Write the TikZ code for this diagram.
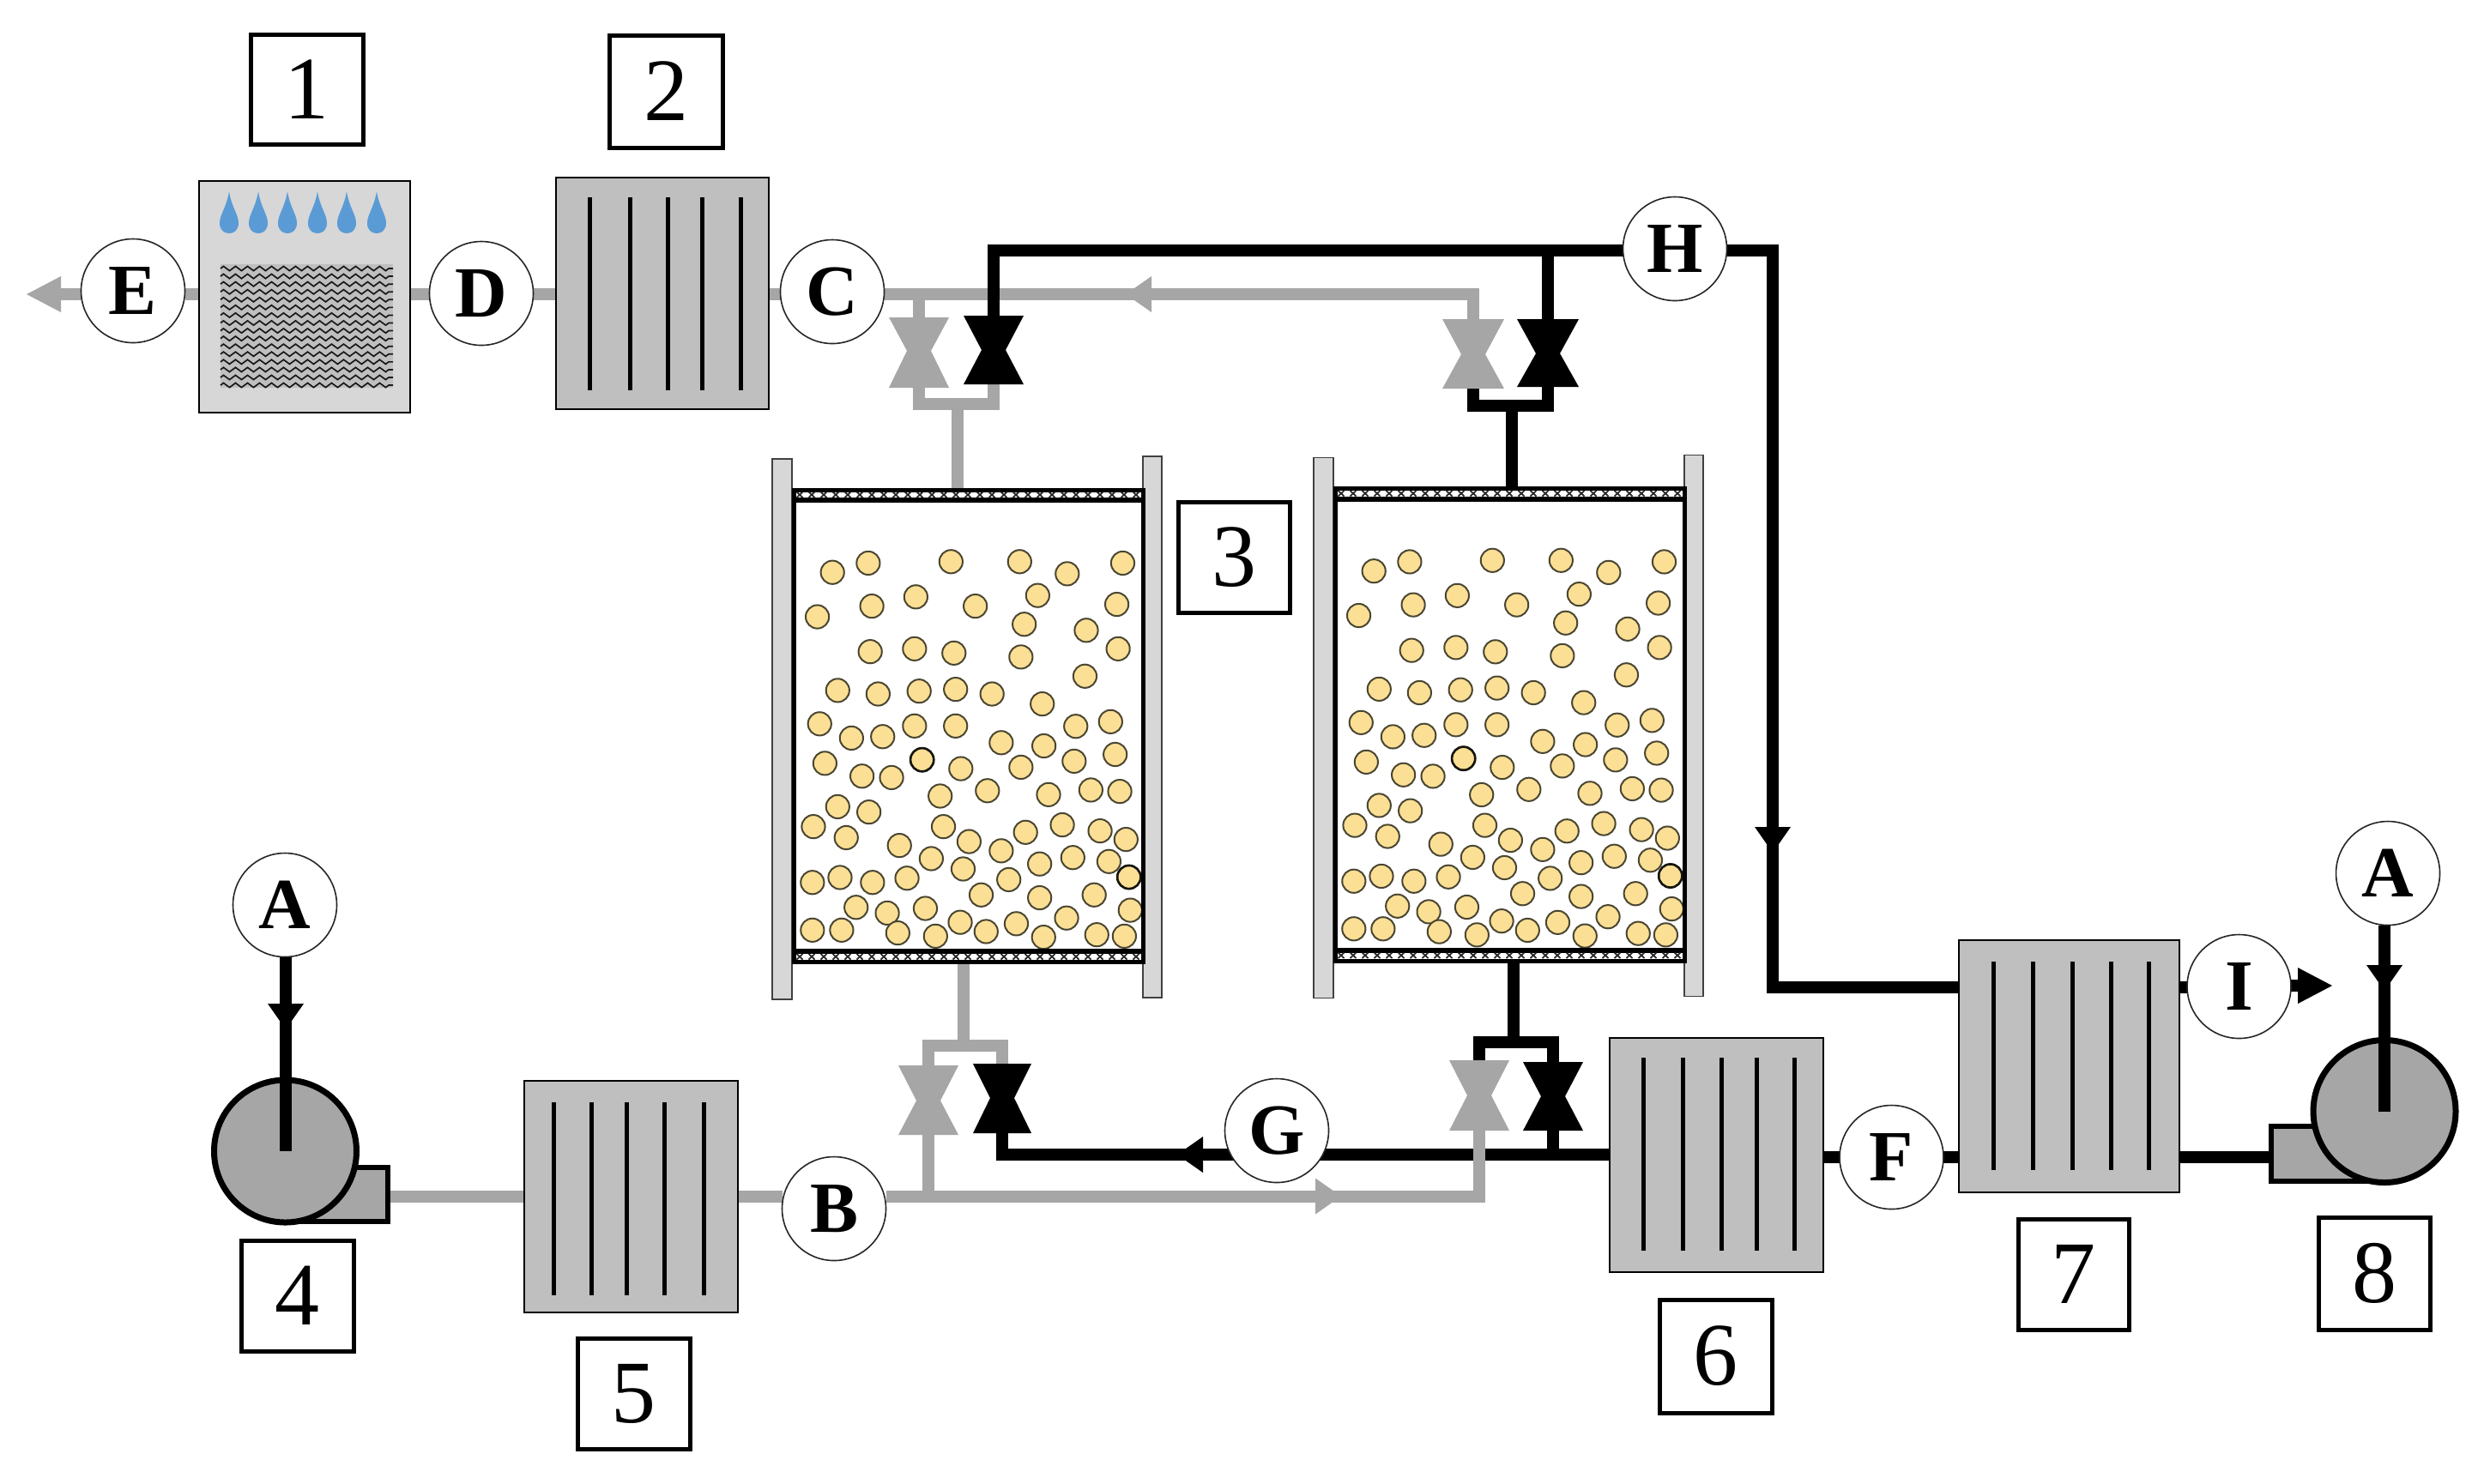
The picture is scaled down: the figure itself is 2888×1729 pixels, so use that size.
\documentclass[tikz,border=0pt]{standalone}
\usepackage{fontspec}
\setmainfont{Liberation Serif}
\usetikzlibrary{arrows.meta,decorations.pathmorphing,backgrounds}
\def\uu{*0.25pt}
\definecolor{pipegray}{HTML}{A6A6A6}
\definecolor{hxgray}{HTML}{BFBFBF}
\definecolor{lightpanel}{HTML}{D7D7D7}
\definecolor{fangray}{HTML}{A6A6A6}
\definecolor{dropblue}{HTML}{5B9BD5}
\definecolor{beadfill}{HTML}{FBDF94}
\definecolor{beadline}{HTML}{4A4632}
\tikzset{
  pipeG/.style={draw=pipegray,line width=14\uu},
  pipeK/.style={draw=black,line width=14\uu},
  headS/.style={-{Triangle[length=7.5pt,width=10.5pt,line width=0pt]}},
  headL/.style={-{Triangle[length=10pt,width=10.5pt,line width=0pt]}},
  hxnode/.style={draw=black,fill=hxgray,line width=2\uu,inner sep=0pt,outer sep=0pt},
  coolnode/.style={draw=black,fill=lightpanel,line width=2\uu,inner sep=0pt,outer sep=0pt},
  finline/.style={draw=black,line width=5\uu},
  tagnode/.style={circle,draw=black!85,fill=white,line width=1.6\uu,minimum size=121\uu,inner sep=0pt,outer sep=0pt,font=\bfseries\fontsize{21}{21}\selectfont},
  numnode/.style={draw=black,fill=white,line width=5\uu,inner sep=0pt,outer sep=0pt,font=\fontsize{26}{26}\selectfont},
  fannode/.style={circle,draw=black,fill=fangray,line width=7\uu,inner sep=0pt,outer sep=0pt,minimum size=166\uu},
  outnode/.style={draw=black,fill=fangray,line width=6\uu,inner sep=0pt,outer sep=0pt},
  platenode/.style={draw=black!75,fill=lightpanel,line width=1.6\uu,inner sep=0pt,outer sep=0pt},
  bednode/.style={draw=black,fill=white,line width=5\uu,inner sep=0pt,outer sep=0pt},
  beadstyle/.style={draw=beadline,fill=beadfill,line width=2\uu},
  meshx/.style={draw=black!85,line width=1.7\uu},
}
\newcommand\boxnode[7]{% style name x0 y0 x1 y1 text
  \node[#1,minimum width={(#5-#3)*0.25pt},minimum height={(#6-#4)*0.25pt}] (#2) at ({(#3+#5)/2},{(#4+#6)/2}) {#7};}
\newcommand\hourglass[7]{% name color cx top neck bottom halfwidth
  \fill[#2] (#3-#7,#4) -- (#3+#7,#4) -- (#3+14,#5) -- (#3+#7,#6) -- (#3-#7,#6) -- (#3-14,#5) -- cycle;
  \coordinate (#1t) at (#3,#4);
  \coordinate (#1b) at (#3,#6);}
\def\beadlist{314/355,423/329,675/325,884/325,1029/359,1198/329,
268/480,434/450,568/424,749/450,939/420,1180/445,898/501,1087/518,
429/578,564/570,684/582,888/593,1184/570,1083/647,
330/687,453/697,578/689,689/684,800/697,953/725,
275/781,372/821,467/817,564/787,689/787,1055/788,1161/775,828/834,958/843,
291/892,404/928,494/932,587/882,705/907,888/903,1050/886,1175/867,
642/984,786/969,972/980,1101/967,1189/971,
330/1014,425/1029,256/1070,356/1101,652/1070,1014/1065,1129/1082,1208/1106,
902/1086,730/1112,828/1138,518/1123,615/1160,945/1175,1046/1157,1156/1168,
712/1189,851/1219,1217/1212,253/1227,337/1213,436/1227,541/1215,
767/1262,945/1270,1111/1262,386/1297,481/1313,597/1300,1221/1305,
253/1361,342/1361,513/1369,703/1339,628/1378,782/1365,874/1343,957/1381,1027/1327,1119/1374,1203/1378}
\newcommand\bedunit[1]{%
  \boxnode{platenode}{#1pl}{900}{535}{923}{1165}{}
  \boxnode{platenode}{#1pr}{1332}{532}{1354}{1163}{}
  \boxnode{bednode}{#1}{925.5}{571}{1332.5}{1121.5}{}
  \foreach \a/\b in \beadlist {\draw[beadstyle] ({850+\a/2.613},{520+\b/2.412}) circle[radius=13.6];}
  \foreach \a/\b in {587/882,1217/1212} {\draw[draw=black!70!beadline,line width=2.6\uu] ({850+\a/2.613},{520+\b/2.412}) circle[radius=13.6];}
  \draw[draw=black,line width=6\uu] (925.5,583) -- (1332.5,583) (925.5,1109) -- (1332.5,1109);
  \draw[draw=black,line width=5\uu] (925.5,571) rectangle (1332.5,1121.5);
  \draw[meshx] \foreach \x in {932,946,...,1326} {({\x-3.5},573.5) -- ({\x+3.5},580) ({\x-3.5},580) -- ({\x+3.5},573.5) ({\x-3.5},1112) -- ({\x+3.5},1118.5) ({\x-3.5},1118.5) -- ({\x+3.5},1112)};
}
\begin{document}
\begin{tikzpicture}[x=0.25pt,y=-0.25pt]
\useasboundingbox (0,0) rectangle (2888,1729);
\begin{pgfonlayer}{background}
\fill[white] (0,0) rectangle (2888,1729);
\end{pgfonlayer}

% equipment
\boxnode{coolnode}{cooler}{232}{211}{478}{481}{}
\foreach \x in {267,301,335,370,404,439} {
  \fill[dropblue,shift={(\x,0)}] (0,223) .. controls (-3,242) and (-11,250) .. (-11,260) .. controls (-11,268) and (-6,272) .. (0,272) .. controls (6,272) and (11,268) .. (11,260) .. controls (11,250) and (3,242) .. (0,223) -- cycle;}
\fill[hxgray] (257,308) rectangle (458,452);
\foreach \i in {0,...,15} {
  \draw[black!90,line width=1.7\uu,decorate,decoration={zigzag,segment length=3.5pt,amplitude=0.65pt}] (257,{313+9.07*\i}) -- (458,{313+9.07*\i});}

\boxnode{hxnode}{hxtwo}{648}{207}{896}{477}{}
\foreach \x in {687,734,778,818,863} \draw[finline] (\x,230) -- (\x,455);
\boxnode{hxnode}{hxfive}{611}{1260}{860}{1530}{}
\foreach \x in {645,689,730,774,820} \draw[finline] (\x,1285) -- (\x,1510);
\boxnode{hxnode}{hxsix}{1876}{1210}{2125}{1483}{}
\foreach \x in {1915,1961,2006,2047,2091} \draw[finline] (\x,1233) -- (\x,1458);
\boxnode{hxnode}{hxseven}{2283}{1096}{2540}{1390}{}
\foreach \x in {2323,2369,2415,2460,2504} \draw[finline] (\x,1121) -- (\x,1364);

% adsorption beds
\bedunit{bedA}
\begin{scope}[shift={(631,-1.5)}]
\bedunit{bedB}
\end{scope}

% valves
\hourglass{vgone}{pipegray}{1071}{370}{409}{452}{35}
\hourglass{vkone}{black}{1158}{368}{408}{448}{35}
\hourglass{vgtwo}{pipegray}{1717}{372}{413}{453}{36}
\hourglass{vktwo}{black}{1804}{372}{412}{451}{36}
\hourglass{vgthree}{pipegray}{1082}{1242}{1283}{1323}{35}
\hourglass{vkthree}{black}{1168}{1240}{1280}{1321}{34}
\hourglass{vgfour}{pipegray}{1724}{1236}{1277}{1318}{35}
\hourglass{vkfour}{black}{1810}{1238}{1278}{1318}{35}

% fans
\boxnode{outnode}{outfour}{332}{1361}{452}{1424}{}
\node[fannode] (fanfour) at (332.5,1342) {};
\boxnode{outnode}{outeight}{2647}{1313}{2779}{1377}{}
\node[fannode] (faneight) at (2779,1295.5) {};

% letter tags
\node[tagnode] (E) at (155,339) {E};
\node[tagnode] (D) at (561,342) {D};
\node[tagnode] (C) at (970,340) {C};
\node[tagnode] (H) at (1952,290) {H};
\node[tagnode] (B) at (972,1409) {B};
\node[tagnode] (G) at (1488,1318) {G};
\node[tagnode] (F) at (2204.5,1349) {F};
\node[tagnode] (I) at (2609.5,1150) {I};
\node[tagnode] (Aleft) at (332,1055) {A};
\node[tagnode] (Aright) at (2783,1018) {A};

% number boxes
\boxnode{numnode}{nOne}{292}{40}{423}{168}{1}
\boxnode{numnode}{nTwo}{710}{41}{842}{172}{2}
\boxnode{numnode}{nThree}{1373}{585}{1503}{714}{3}
\boxnode{numnode}{nFour}{281}{1446}{412}{1575}{4}
\boxnode{numnode}{nFive}{673}{1560}{804}{1689}{5}
\boxnode{numnode}{nSix}{1934}{1515}{2065}{1647}{6}
\boxnode{numnode}{nSeven}{2352}{1421}{2481}{1550}{7}
\boxnode{numnode}{nEight}{2702}{1419}{2832}{1550}{8}

% named points of the pipe runs
\coordinate (gyt) at (0,343);
\coordinate (gyb) at (0,1394.5);
\coordinate (kyt) at (0,292);
\coordinate (kyb) at (0,1346);
\coordinate (kyr) at (0,1348.5);
\coordinate (rc) at (2066,1150.5);
\coordinate (etip) at (31,343);
\coordinate (gmid) at (1400,343);
\coordinate (gtip) at (1312,343);
\coordinate (gbmid) at (1450,1394.5);
\coordinate (gbtip) at (1563,1394.5);
\coordinate (kbtip) at (1372,1346);
\coordinate (rmid) at (2066,800);
\coordinate (rtip) at (2066,994);
\coordinate (itip) at (2718,1149);
\coordinate (aLtip) at (333,1200);
\coordinate (aLbase) at (333,1172);
\coordinate (aRtip) at (2779,1155);
\coordinate (aRbase) at (2779,1127);
\coordinate (stemTA) at (1115.5,471);
\coordinate (stemTB) at (1762,472.5);
\coordinate (stemBA) at (1123,1219);
\coordinate (stemBB) at (1764,1215);

\begin{pgfonlayer}{background}
% regeneration air: grey, upper run
\draw[pipeG] (E.east|-gyt) -- (cooler.west|-gyt);
\draw[pipeG] (cooler.east|-gyt) -- (D.west|-gyt);
\draw[pipeG] (D.east|-gyt) -- (hxtwo.west|-gyt);
\draw[pipeG] (hxtwo.east|-gyt) -- (C.west|-gyt);
\draw[pipeG] (C.east|-gyt) -| (vgtwot);
\draw[pipeG] (vgonet) -- (vgonet|-gyt);
\draw[pipeG] (vgoneb) -- ++(0,19) -| (vkoneb);
\draw[pipeG] (stemTA) -- (stemTA|-bedA.north);
\draw[pipeG] (stemBA|-bedA.south) -- (stemBA);
\draw[pipeG] (vgthreet) -- ++(0,-23) -| (vkthreet);
% hot air: black
\draw[pipeK] (vkonet) |- (H.west|-kyt);
\draw[pipeK] (vktwot) -- (vktwot|-kyt);
\draw[pipeK] (H.east|-kyt) -| (rc) -- (hxseven.west|-rc);
\draw[pipeK] (vgtwob) -- ++(0,19.5) -| (vktwob);
\draw[pipeK] (stemTB) -- (stemTB|-bedB.north);
\draw[pipeK] (stemBB|-bedB.south) -- (stemBB);
\draw[pipeK] (vgfourt) -- ++(0,-21) -| (vkfourt);
\draw[pipeK] (hxsix.west|-kyb) -| (vkthreeb);
\draw[pipeK] (vkfourb) -- (vkfourb|-kyb);
\draw[pipeK] (hxsix.east|-kyr) -- (F.west|-kyr);
\draw[pipeK] (F.east|-kyr) -- (hxseven.west|-kyr);
\draw[pipeK] (hxseven.east|-kyr) -- (outeight.west|-kyr);
\draw[pipeK] (hxseven.east|-rc) -- (I.west|-rc);
% process air: grey, lower run
\draw[pipeG] (outfour.east|-gyb) -- (hxfive.west|-gyb);
\draw[pipeG] (hxfive.east|-gyb) -- (B.west|-gyb);
\draw[pipeG] (B.east|-gyb) -| (vgfourb);
\draw[pipeG] (vgthreeb) -- (vgthreeb|-gyb);
% arrow heads
\draw[pipeG,headL] (E.west|-gyt) -- (etip);
\draw[pipeG,headS] (gmid) -- (gtip);
\draw[pipeG,headS] (gbmid) -- (gbtip);
\draw[pipeK,headS] (G.west|-kyb) -- (kbtip);
\draw[pipeK,headS] (rmid) -- (rtip);
\draw[pipeK,headL] (I.east|-itip) -- (itip);
\end{pgfonlayer}

% feed lines into the fans, in front of the fan bodies
\draw[pipeK] (aLbase) -- (aLbase|-fanfour.center);
\draw[pipeK,headS] (aLtip|-Aleft.south) -- (aLtip);
\draw[pipeK] (aRbase) -- (aRbase|-faneight.center);
\draw[pipeK,headS] (aRtip|-Aright.south) -- (aRtip);
\end{tikzpicture}
\end{document}
